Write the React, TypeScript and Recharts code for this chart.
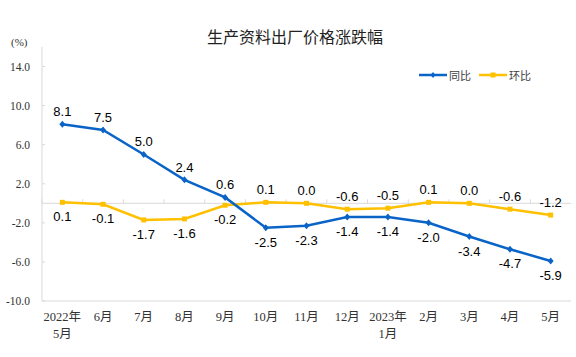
import { LineChart, Line, XAxis, YAxis, ReferenceLine, LabelList, Legend } from 'recharts';

const categories = ['2022年\n5月', '6月', '7月', '8月', '9月', '10月', '11月', '12月', '2023年\n1月', '2月', '3月', '4月', '5月'];
const yoy = [8.1, 7.5, 5.0, 2.4, 0.6, -2.5, -2.3, -1.4, -1.4, -2.0, -3.4, -4.7, -5.9];
const mom = [0.1, -0.1, -1.7, -1.6, -0.2, 0.1, 0.0, -0.6, -0.5, 0.1, 0.0, -0.6, -1.2];
const yTicks = [-10, -6, -2, 2, 6, 10, 14];

const data = categories.map((name, i) => ({ name, yoy: yoy[i], mom: mom[i] }));

const BLUE = '#0A64C8';
const YELLOW = '#FFC000';
const GRID = '#D9D9D9';
const SERIF = '"Liberation Serif", "Noto Sans CJK SC", serif';
const SANS = '"Liberation Sans", Arial, sans-serif';

// half a category slot on each side, so points sit in the middle of their slot
const PLOT_W = 529;
const HALF = PLOT_W / categories.length / 2;

const XTick = ({ x, y, payload }: any) => {
  const lines = String(payload.value).split('\n');
  return (
    <text x={x} y={y} textAnchor="middle" fontSize={12.5} fontFamily={SERIF} fill="#333">
      {lines.map((l, i) => (
        <tspan key={i} x={x} dy={i === 0 ? 20 : 17}>{l}</tspan>
      ))}
    </text>
  );
};

const makeLabel = (own: number[], other: number[]) => (props: any) => {
  const { x, y, index } = props;
  const above = own[index] >= other[index];
  return (
    <text x={x} y={above ? y - 8 : y + 19} textAnchor="middle" fontSize={13} fontFamily={SANS} fill="#000">
      {own[index].toFixed(1)}
    </text>
  );
};

const Diamond = ({ cx, cy }: any) => (
  <path d={`M${cx},${cy - 3.5}L${cx + 3},${cy}L${cx},${cy + 3.5}L${cx - 3},${cy}Z`} fill={BLUE} />
);
const Square = ({ cx, cy }: any) => <rect x={cx - 2.5} y={cy - 2.5} width={5} height={5} fill={YELLOW} />;

const ZeroLine = ({ x1, y1, x2 }: any) => {
  const left = Math.min(x1, x2);
  const step = Math.abs(x2 - x1) / categories.length;
  return (
    <g>
      <line x1={x1} y1={y1} x2={x2} y2={y1} stroke={GRID} strokeWidth={1} />
      {categories.map((_, i) => (
        <line key={i} x1={left + step * i} x2={left + step * i} y1={y1} y2={y1 - 4} stroke={GRID} />
      ))}
    </g>
  );
};

const LegendContent = () => (
  <div style={{ display: 'flex', alignItems: 'center', fontFamily: '"Noto Sans CJK SC", sans-serif', fontSize: 11, color: '#404040' }}>
    <svg width={30} height={8}>
      <line x1={0} y1={4} x2={28} y2={4} stroke={BLUE} strokeWidth={2.5} />
      <path d="M14,1L16.5,4L14,7L11.5,4Z" fill={BLUE} />
    </svg>
    <span style={{ marginRight: 8 }}>同比</span>
    <svg width={30} height={8}>
      <line x1={0} y1={4} x2={28} y2={4} stroke={YELLOW} strokeWidth={2.5} />
      <rect x={11.5} y={1.5} width={5} height={5} fill={YELLOW} />
    </svg>
    <span>环比</span>
  </div>
);

export default function App() {
  return (
    <div style={{ position: 'absolute', left: 0, top: 0, width: 576, height: 357, background: '#fff' }}>
      <div style={{ position: 'absolute', left: 0, width: 590, top: 26, textAlign: 'center', fontFamily: '"Noto Sans CJK SC", sans-serif', fontSize: 16, color: '#222', lineHeight: '20px' }}>
        生产资料出厂价格涨跌幅
      </div>
      <div style={{ position: 'absolute', left: 11, top: 36, fontFamily: SERIF, fontSize: 11, color: '#333' }}>(%)</div>
      <LineChart width={576} height={357} data={data} margin={{ top: 47, right: 5, bottom: 0, left: 0 }}>
        <XAxis
          dataKey="name"
          axisLine={{ stroke: GRID }}
          tickLine={false}
          tickSize={0}
          tickMargin={0}
          tick={<XTick />}
          interval={0}
          height={56}
          padding={{ left: HALF, right: HALF }}
        />
        <XAxis xAxisId="top" dataKey="name" orientation="top" axisLine={{ stroke: GRID }} tick={false} tickLine={false} height={0} />
        <YAxis
          domain={[-10, 16]}
          ticks={yTicks}
          allowDataOverflow
          axisLine={{ stroke: GRID }}
          tickLine={{ stroke: GRID }}
          tickSize={-3}
          tickMargin={15}
          width={42}
          tick={{ fontSize: 11.5, fontFamily: SERIF, fill: '#333' }}
          tickFormatter={(v: number) => v.toFixed(1)}
        />
        <YAxis yAxisId="r" orientation="right" axisLine={{ stroke: GRID }} tick={false} tickLine={false} width={0} />
        <ReferenceLine y={0} stroke={GRID} shape={<ZeroLine />} />
        <Legend
          layout="horizontal"
          verticalAlign="middle"
          align="center"
          content={<LegendContent />}
          wrapperStyle={{ top: 67, left: 419, width: 'auto', height: 'auto' }}
        />
        <Line dataKey="mom" name="环比" stroke={YELLOW} strokeWidth={2.5} dot={<Square />} isAnimationActive={false}>
          <LabelList dataKey="mom" content={makeLabel(mom, yoy)} />
        </Line>
        <Line dataKey="yoy" name="同比" stroke={BLUE} strokeWidth={2.5} dot={<Diamond />} isAnimationActive={false}>
          <LabelList dataKey="yoy" content={makeLabel(yoy, mom)} />
        </Line>
      </LineChart>
    </div>
  );
}
